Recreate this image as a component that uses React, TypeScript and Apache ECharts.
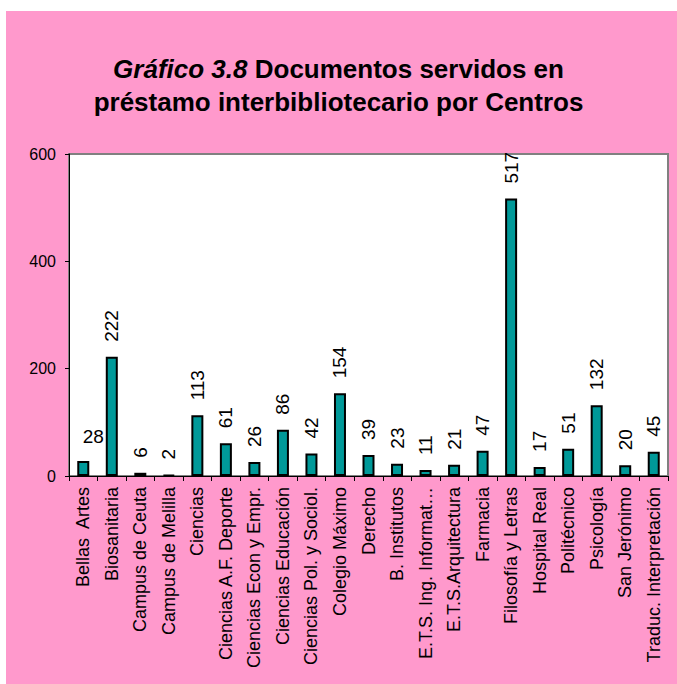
import React, { useEffect, useRef } from "react";
import * as echarts from "echarts";

const categories = [
  "Bellas  Artes",
  "Biosanitaria",
  "Campus de Ceuta",
  "Campus de Melilla",
  "Ciencias",
  "Ciencias A.F. Deporte",
  "Ciencias Econ y Empr.",
  "Ciencias Educación",
  "Ciencias Pol. y Sociol.",
  "Colegio Máximo",
  "Derecho",
  "B. Institutos",
  "E.T.S. Ing. Informat…",
  "E.T.S.Arquitectura",
  "Farmacia",
  "Filosofía y Letras",
  "Hospital Real",
  "Politécnico",
  "Psicología",
  "San Jerónimo",
  "Traduc. Interpretación",
];

const values = [28, 222, 6, 2, 113, 61, 26, 86, 42, 154, 39, 23, 11, 21, 47, 517, 17, 51, 132, 20, 45];

const yTicks = [0, 200, 400, 600];

const FONT = "'Liberation Sans', Arial, sans-serif";

export default function App() {
  const ref = useRef<HTMLDivElement>(null);
  useEffect(() => {
    if (!ref.current) return;
    const chart = echarts.init(ref.current, undefined, { renderer: "svg" });
    const data = values.map((v, i) => {
      if (i === 0) {
        return {
          value: v,
          label: {
            show: true,
            rotate: 0,
            position: "top",
            align: "center",
            verticalAlign: "bottom",
            distance: 15,
            offset: [10, 0],
          },
        };
      }
      return { value: v };
    });
    chart.setOption({
      animation: false,
      backgroundColor: "#ffffff",
      textStyle: { fontFamily: FONT },
      graphic: [
        {
          type: "rect",
          z: -10,
          silent: true,
          shape: { x: 6, y: 11, width: 671, height: 673 },
          style: { fill: "#FF99CC" },
        },
      ],
      title: {
        left: "center",
        top: 47,
        text: "{i|Gráfico 3.8} Documentos servidos en\npréstamo interbibliotecario por Centros",
        textStyle: {
          fontFamily: FONT,
          fontSize: 26,
          fontWeight: "bold",
          color: "#000",
          lineHeight: 33,
          rich: {
            i: {
              fontFamily: FONT,
              fontSize: 26,
              fontWeight: "bold",
              fontStyle: "italic",
              color: "#000",
            },
          },
        },
      },
      grid: {
        left: 69,
        top: 154,
        width: 599,
        height: 322,
        show: true,
        backgroundColor: "#ffffff",
        borderColor: "#808080",
        borderWidth: 2,
      },
      xAxis: {
        type: "category",
        data: categories,
        axisLine: { show: true, lineStyle: { color: "#000", width: 1 } },
        axisTick: { show: true, length: 5, lineStyle: { color: "#000" } },
        axisLabel: {
          rotate: 90,
          interval: 0,
          margin: 11,
          fontFamily: FONT,
          fontSize: 18,
          color: "#000",
        },
      },
      yAxis: {
        type: "value",
        min: yTicks[0],
        max: yTicks[yTicks.length - 1],
        interval: 200,
        splitLine: { show: false },
        axisLine: { show: true, lineStyle: { color: "#000", width: 1 } },
        axisTick: { show: true, length: 4, lineStyle: { color: "#000" } },
        axisLabel: {
          fontFamily: FONT,
          fontSize: 16,
          color: "#000",
          margin: 13,
        },
      },
      series: [
        {
          type: "bar",
          data,
          barWidth: 12,
          itemStyle: {
            color: "#009999",
            borderColor: "#000",
            borderWidth: 2,
          },
          label: {
            show: true,
            position: "top",
            rotate: 90,
            align: "left",
            verticalAlign: "middle",
            distance: 15,
            fontFamily: FONT,
            fontSize: 19,
            color: "#000",
          },
        },
      ],
    });
    return () => chart.dispose();
  }, []);
  return (
    <div
      ref={ref}
      style={{ position: "absolute", left: 0, top: 0, width: 677, height: 684 }}
    />
  );
}
